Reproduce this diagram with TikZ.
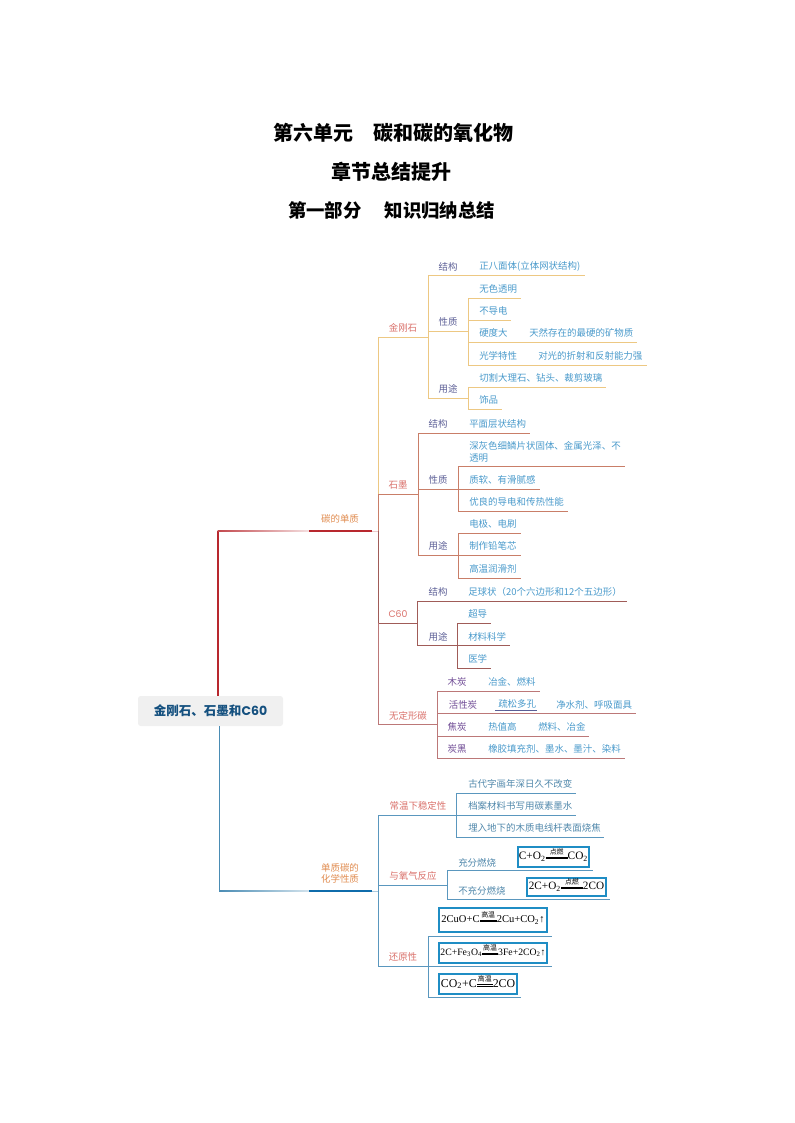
\documentclass[tikz,border=0pt]{standalone}
\usepackage{fontspec}
\setmainfont{Noto Sans CJK SC}
\newfontfamily\capfont{Poppins}
\newfontfamily\eqfont{Liberation Serif}

% condition sign in the equations
\newcommand{\eqsign}[2]{\makebox[#2][c]{\raisebox{1.05ex}[0pt][0pt]{\rmfamily\fontsize{5.2}{6}\selectfont #1}}\llap{\raisebox{0.5ex}{\rule{#2}{0.25pt}}}\llap{\raisebox{0.22ex}{\rule{#2}{0.25pt}}}}

\definecolor{lineGold}{HTML}{EDC883}
\definecolor{lineRose}{HTML}{C97E68}
\definecolor{lineBrown}{HTML}{A05C58}
\definecolor{linePink}{HTML}{BC7878}
\definecolor{lineBlue}{HTML}{5A97BE}
\definecolor{lineRed}{HTML}{B8282E}
\definecolor{lineNavy}{HTML}{4A8CB4}
\definecolor{barBlue}{HTML}{0F6CAB}
\definecolor{boxBlue}{HTML}{1F8DC4}
\definecolor{txtRed}{HTML}{D9706A}
\definecolor{txtSlate}{HTML}{5C5F96}
\definecolor{txtPurple}{HTML}{6E4A94}
\definecolor{txtLeaf}{HTML}{4A9ACB}
\definecolor{txtOrange}{HTML}{E08C50}

\tikzset{
    every node/.style={inner sep=0pt, font=\fontsize{7.1}{8.7}\selectfont},
    title/.style={font=\fontsize{15}{18}\bfseries\selectfont, text=black},
    branch/.style={text=txtRed},
    topic/.style={text=txtOrange, align=center},
    part/.style={text=txtSlate},
    coal/.style={text=txtPurple},
    leaf/.style={text=txtLeaf, anchor=west, align=left},
    eqbox/.style={draw=boxBlue, line width=1pt},
    stem/.style={line width=0.7pt},
}

\begin{document}
\begin{tikzpicture}[x=0.75pt, y=-0.75pt]
    \useasboundingbox (0,0) rectangle (794,1123);

    % titles
    \node[title] (Title_a) at (393,132.5) {第六单元\hspace{1em}碳和碳的氧化物};
    \node[title] (Title_b) at (391.5,171.5) {章节总结提升};
    \node[title, font=\fontsize{13.8}{18}\bfseries\selectfont] (Title_c) at (391.5,210.5) {第一部分\hspace{1.25em}知识归纳总结};

    % define root
    \node[fill=black!6, rounded corners=2pt, minimum width=108.75pt, minimum height=22.5pt,
        text={rgb,255:red,20;green,80;blue,127}, font=\fontsize{9.4}{11}\bfseries\selectfont]
        (Root) at (210.5,711) {金刚石、石墨和{\capfont C60}};

    % define topics
    \coordinate (Sub_a) at (218,531);
    \coordinate (Sub_b) at (309,531);
    \coordinate (Sub_c) at (372,531);
    \coordinate (Sub_j) at (378,531);
    \coordinate (Che_a) at (219.5,891);
    \coordinate (Che_b) at (309,891);
    \coordinate (Che_c) at (372,891);
    \coordinate (Che_j) at (378,891);
    \node[topic] (Sub) at (340,519) {碳的单质};
    \node[topic] (Che) at (340,873.5) {单质碳的\\化学性质};

    % draw topics
    \draw[line width=0.85pt, lineRed] (Root.north -| Sub_a) -- (Sub_a);
    \path[left color=lineRed!85, right color=lineRed!15] (217.5,530.4) rectangle (309,531.6);
    \draw[line width=1.7pt, lineRed] (Sub_b) -- (Sub_c);
    \draw[stem, lineRed!25] (Sub_c) -- (Sub_j);
    \draw[line width=1pt, lineNavy] (Root.south -| Che_a) -- (Che_a);
    \path[left color=lineNavy, right color=lineNavy!25] (219,890.4) rectangle (309,891.6);
    \draw[line width=1.7pt, barBlue] (Che_b) -- (Che_c);
    \draw[stem, lineBlue!50] (Che_c) -- (Che_j);

    % define branches
    \coordinate (Gra_t) at (378,494);
    \coordinate (Cso_t) at (378,623);
    \coordinate (Dia_j) at (428,337);
    \coordinate (Gra_j) at (418,494);
    \coordinate (Cso_j) at (417,623);
    \coordinate (Amo_j) at (437,724);
    \coordinate (Sta_j) at (456,815);
    \coordinate (Oxy_j) at (447,885);
    \coordinate (Rdu_j) at (428,966);

    \node[branch] (Dia) at (403,328) {金刚石};
    \node[branch] (Gra) at (398,485) {石墨};
    \node[branch, font=\fontsize{7}{9}\capfont\selectfont] (Cso) at (398,614) {C60};
    \node[branch] (Amo) at (408,716) {无定形碳};
    \node[branch] (Sta) at (418,806) {常温下稳定性};
    \node[branch] (Oxy) at (413,876) {与氧气反应};
    \node[branch] (Rdu) at (403,957) {还原性};

    \draw[stem, lineGold] (Gra_t) |- (Dia_j);
    \draw[stem, lineRose] (Sub_j) |- (Gra_j);
    \draw[stem, lineBrown] (Sub_j) |- (Cso_j);
    \draw[stem, linePink] (Cso_t) |- (Amo_j);
    \draw[stem, lineBlue] (Che_j) |- (Sta_j);
    \draw[stem, lineBlue] (Che_j) |- (Oxy_j);
    \draw[stem, lineBlue] (Che_j) |- (Rdu_j);

    % diamond
    \foreach \kid/\y/\xb/\txt in {Dia_st/275.5/585/结构, Dia_pr/331/468/性质, Dia_us/398/468/用途}{
        \coordinate (\kid_end) at (\xb,\y);
        \node[part] (\kid) at (448,\y-9) {\txt};
        \draw[stem, lineGold] (Dia_j) |- (\kid_end);
    }
    \node[leaf] (Dia_st_a) at (479,266.5) {正八面体(立体网状结构)};
    \foreach \kid/\y/\xb/\txt in {Dia_a/298/521/无色透明, Dia_b/320/511/不导电, Dia_c/342/637/硬度大, Dia_d/365/647/光学特性}{
        \coordinate (\kid_end) at (\xb,\y);
        \node[leaf] (\kid) at (479,\y-9) {\txt};
        \draw[stem, lineGold] (Dia_pr_end) |- (\kid_end);
    }
    \node[leaf] (Dia_c_a) at (529,333) {天然存在的最硬的矿物质};
    \node[leaf] (Dia_d_a) at (538,356) {对光的折射和反射能力强};
    \foreach \kid/\y/\xb/\txt in {Dia_e/387/606/切割大理石、钻头、裁剪玻璃, Dia_f/409/502/饰品}{
        \coordinate (\kid_end) at (\xb,\y);
        \node[leaf] (\kid) at (479,\y-9) {\txt};
        \draw[stem, lineGold] (Dia_us_end) |- (\kid_end);
    }

    % graphite
    \foreach \kid/\y/\xb/\txt in {Gra_st/433/530/结构, Gra_pr/489/458/性质, Gra_us/555/458/用途}{
        \coordinate (\kid_end) at (\xb,\y);
        \node[part] (\kid) at (438,\y-9) {\txt};
        \draw[stem, lineRose] (Gra_j) |- (\kid_end);
    }
    \node[leaf] (Gra_st_a) at (469,424) {平面层状结构};
    \coordinate (Gra_a_end) at (625,466);
    \node[leaf] (Gra_a) at (469,452) {深灰色细鳞片状固体、金属光泽、不\\透明};
    \draw[stem, lineRose] (Gra_pr_end) |- (Gra_a_end);
    \foreach \kid/\y/\xb/\txt in {Gra_b/489/540/质软、有滑腻感, Gra_c/511/568/优良的导电和传热性能}{
        \coordinate (\kid_end) at (\xb,\y);
        \node[leaf] (\kid) at (469,\y-9) {\txt};
        \draw[stem, lineRose] (Gra_pr_end) |- (\kid_end);
    }
    \foreach \kid/\y/\xb/\txt in {Gra_d/533/521/电极、电刷, Gra_e/555/521/制作铅笔芯, Gra_f/578/521/高温润滑剂}{
        \coordinate (\kid_end) at (\xb,\y);
        \node[leaf] (\kid) at (469,\y-9) {\txt};
        \draw[stem, lineRose] (Gra_us_end) |- (\kid_end);
    }

    % fullerene
    \foreach \kid/\y/\xb/\txt in {Cso_st/601/627/结构, Cso_us/645.5/457/用途}{
        \coordinate (\kid_end) at (\xb,\y);
        \node[part] (\kid) at (438,\y-9) {\txt};
        \draw[stem, lineBrown] (Cso_j) |- (\kid_end);
    }
    \node[leaf] (Cso_st_a) at (468,592) {足球状（20个六边形和12个五边形）};
    \foreach \kid/\y/\xb/\txt in {Cso_a/623/491/超导, Cso_b/645.5/510/材料科学, Cso_c/668/491/医学}{
        \coordinate (\kid_end) at (\xb,\y);
        \node[leaf] (\kid) at (468,\y-9) {\txt};
        \draw[stem, lineBrown] (Cso_us_end) |- (\kid_end);
    }

    % amorphous carbon
    \foreach \kid/\y/\xb/\txt/\xt in {Amo_a/691/540/木炭/457, Amo_b/713.5/636/活性炭/463, Amo_c/736/589/焦炭/457, Amo_d/758/625/炭黑/457}{
        \coordinate (\kid_end) at (\xb,\y);
        \node[coal] (\kid) at (\xt,\y-9) {\txt};
        \draw[stem, linePink] (Amo_j) |- (\kid_end);
    }
    \node[leaf] (Amo_a_a) at (488,682) {冶金、燃料};
    \node[leaf] (Amo_b_a) at (498,704) {疏松多孔};
    \node[leaf] (Amo_b_b) at (556,705) {净水剂、呼吸面具};
    \node[leaf] (Amo_c_a) at (488,727) {热值高};
    \node[leaf] (Amo_c_b) at (538,727) {燃料、冶金};
    \node[leaf] (Amo_d_a) at (488,749) {橡胶填充剂、墨水、墨汁、染料};
    \draw[line width=0.5pt, txtSlate] ([xshift=-2pt,yshift=-1pt]Amo_b_a.south west) -- ([xshift=0.5pt,yshift=-1pt]Amo_b_a.south east);

    % stable at room temperature
    \foreach \kid/\y/\xb/\txt in {Sta_a/793/576/古代字画年深日久不改变, Sta_b/815/576/档案材料书写用碳素墨水, Sta_c/837/604/埋入地下的木质电线杆表面烧焦}{
        \coordinate (\kid_end) at (\xb,\y);
        \node[leaf, text=lineBlue!90!black] (\kid) at (468,\y-9) {\txt};
        \draw[stem, lineBlue] (Sta_j) |- (\kid_end);
    }

    % reaction with oxygen
    \foreach \kid/\y/\xb/\txt in {Oxy_a/870.5/593/充分燃烧, Oxy_b/899/610/不充分燃烧}{
        \coordinate (\kid_end) at (\xb,\y);
        \node[leaf, text=lineBlue!90!black] (\kid) at (458,\y-8) {\txt};
        \draw[stem, lineBlue] (Oxy_j) |- (\kid_end);
    }
    \node[eqbox, minimum width=53.25pt, minimum height=15pt, font=\fontsize{8.5}{10}\eqfont\selectfont]
        (Eq_a) at (553.5,857) {C+O\textsubscript{2}\eqsign{点燃}{16.5pt}CO\textsubscript{2}};
    \node[eqbox, minimum width=59.25pt, minimum height=13.5pt, font=\fontsize{8.4}{10}\eqfont\selectfont]
        (Eq_b) at (566.5,887) {2C+O\textsubscript{2}\eqsign{点燃}{16.5pt}2CO};

    % reduction
    \foreach \kid/\y/\xb in {Rdu_a/936/552, Rdu_b/966/552, Rdu_c/997/521}{
        \coordinate (\kid_end) at (\xb,\y);
        \draw[stem, lineBlue] (Rdu_j) |- (\kid_end);
    }
    \node[eqbox, minimum width=81pt, minimum height=18pt, font=\fontsize{7.9}{10}\eqfont\selectfont]
        (Eq_c) at (493,920) {2CuO+C\eqsign{高温}{13pt}2Cu+CO\textsubscript{2}↑};
    \node[eqbox, minimum width=81pt, minimum height=15pt, font=\fontsize{7.3}{10}\eqfont\selectfont]
        (Eq_d) at (493,953) {2C+Fe\textsubscript{3}O\textsubscript{4}\eqsign{高温}{12pt}3Fe+2CO\textsubscript{2}↑};
    \node[eqbox, minimum width=58.5pt, minimum height=15pt, font=\fontsize{8.9}{10}\eqfont\selectfont]
        (Eq_e) at (478,984) {CO\textsubscript{2}+C\eqsign{高温}{12pt}2CO};
\end{tikzpicture}
\end{document}
